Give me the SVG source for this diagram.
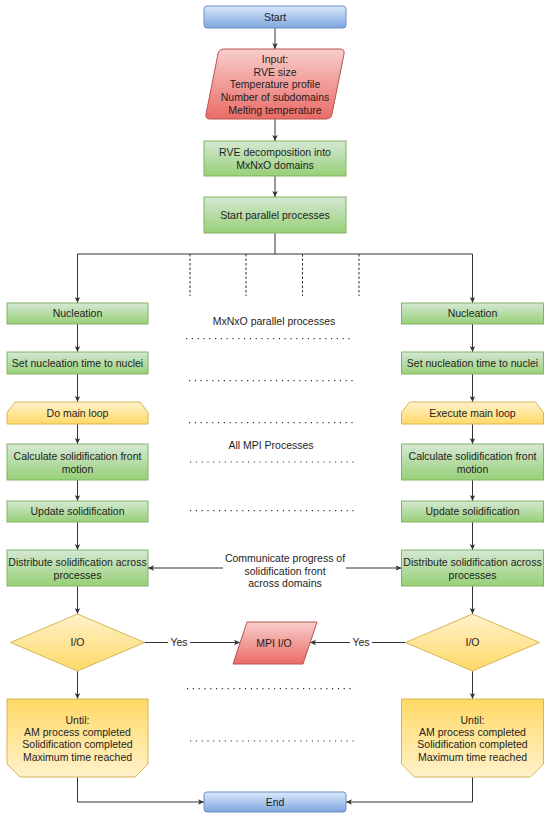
<svg xmlns="http://www.w3.org/2000/svg" width="550" height="821" viewBox="0 0 550 821">
<defs>
<linearGradient id="gBlue" x1="0" y1="0" x2="0" y2="1"><stop offset="0" stop-color="#dae8fc"/><stop offset="1" stop-color="#7ea6e0"/></linearGradient>
<linearGradient id="gRed" x1="0" y1="0" x2="0" y2="1"><stop offset="0" stop-color="#f8cecc"/><stop offset="1" stop-color="#ea6b66"/></linearGradient>
<linearGradient id="gGreen" x1="0" y1="0" x2="0" y2="1"><stop offset="0" stop-color="#d5e8d4"/><stop offset="1" stop-color="#97d077"/></linearGradient>
<linearGradient id="gYellow" x1="0" y1="0" x2="0" y2="1"><stop offset="0" stop-color="#fff2cc"/><stop offset="1" stop-color="#ffd966"/></linearGradient>
<linearGradient id="gYellowUp" x1="0" y1="0" x2="0" y2="1"><stop offset="0" stop-color="#ffd966"/><stop offset="1" stop-color="#fff2cc"/></linearGradient>
<marker id="arr" markerUnits="userSpaceOnUse" markerWidth="7" markerHeight="6" refX="6" refY="2.75" orient="auto" viewBox="0 0 7 6">
<path d="M0,0 L6,2.75 L0,5.5 L1.5,2.75 Z" fill="#333"/>
</marker>
</defs>
<style>
text{font-family:"Liberation Sans",Arial,sans-serif;font-size:10.5px;fill:#1e1e1e;text-anchor:middle}
.blue{fill:url(#gBlue);stroke:#6c8ebf;stroke-width:1}
.red{fill:url(#gRed);stroke:#b85450;stroke-width:1}
.green{fill:url(#gGreen);stroke:#82b366;stroke-width:1}
.yellow{fill:url(#gYellow);stroke:#d6b656;stroke-width:1}
.yellowUp{fill:url(#gYellowUp);stroke:#d6b656;stroke-width:1}
.ln{fill:none;stroke:#333;stroke-width:1}
.ar{fill:none;stroke:#333;stroke-width:1;marker-end:url(#arr)}
.dash{fill:none;stroke:#333;stroke-width:1;stroke-dasharray:2.5 2}
.dot{fill:none;stroke:#333;stroke-width:1.2;stroke-dasharray:1.2 4.6}
</style>

<g id="connectors">
<line class="ar" x1="275" y1="28" x2="275" y2="49"/>
<line class="ar" x1="275" y1="119" x2="275" y2="141"/>
<line class="ar" x1="275" y1="176" x2="275" y2="197"/>
<polyline class="ln" points="275,233 275,254"/>
<polyline class="ln" points="77.5,254 472.5,254"/>
<line class="ar" x1="77.5" y1="254" x2="77.5" y2="303"/>
<line class="ar" x1="472.5" y1="254" x2="472.5" y2="303"/>
<line class="dash" x1="190" y1="254" x2="190" y2="296"/>
<line class="dash" x1="246" y1="254" x2="246" y2="296"/>
<line class="dash" x1="302.5" y1="254" x2="302.5" y2="296"/>
<line class="dash" x1="359" y1="254" x2="359" y2="296"/>

<line class="ar" x1="77.5" y1="324" x2="77.5" y2="352"/>
<line class="ar" x1="77.5" y1="374" x2="77.5" y2="402"/>
<line class="ar" x1="77.5" y1="424" x2="77.5" y2="444"/>
<line class="ar" x1="77.5" y1="480" x2="77.5" y2="501"/>
<line class="ar" x1="77.5" y1="522" x2="77.5" y2="550"/>
<line class="ar" x1="77.5" y1="586" x2="77.5" y2="614"/>
<line class="ar" x1="77.5" y1="671" x2="77.5" y2="699"/>
<polyline class="ar" points="77.5,777 77.5,802 204,802"/>

<line class="ar" x1="472.5" y1="324" x2="472.5" y2="352"/>
<line class="ar" x1="472.5" y1="374" x2="472.5" y2="402"/>
<line class="ar" x1="472.5" y1="424" x2="472.5" y2="444"/>
<line class="ar" x1="472.5" y1="480" x2="472.5" y2="501"/>
<line class="ar" x1="472.5" y1="522" x2="472.5" y2="550"/>
<line class="ar" x1="472.5" y1="586" x2="472.5" y2="614"/>
<line class="ar" x1="472.5" y1="671" x2="472.5" y2="699"/>
<polyline class="ar" points="472.5,777 472.5,802 346,802"/>

<line class="ar" x1="223" y1="568" x2="148" y2="568"/>
<line class="ar" x1="346" y1="568" x2="401.5" y2="568"/>
<line class="ar" x1="144.5" y1="642.5" x2="240" y2="642.5"/>
<line class="ar" x1="405.5" y1="642.5" x2="310" y2="642.5"/>
<rect x="168" y="636" width="22" height="13" fill="#fff"/>
<text x="179" y="646.2">Yes</text>
<rect x="350" y="636" width="22" height="13" fill="#fff"/>
<text x="361" y="646.2">Yes</text>

<line class="dot" x1="186" y1="338.7" x2="352" y2="338.7"/>
<line class="dot" x1="189" y1="380.7" x2="355" y2="380.7"/>
<line class="dot" x1="189" y1="422.7" x2="355" y2="422.7"/>
<line class="dot" x1="190" y1="462" x2="356" y2="462"/>
<line class="dot" x1="190" y1="510.7" x2="357" y2="510.7"/>
<line class="dot" x1="187" y1="688.7" x2="353" y2="688.7"/>
<line class="dot" x1="190" y1="741" x2="357" y2="741"/>
</g>

<g id="labels">
<text x="274" y="325">MxNxO parallel processes</text>
<text x="271" y="448.7">All MPI Processes</text>
<text x="285" y="562">Communicate progress of</text>
<text x="285" y="574.7">solidification front</text>
<text x="285" y="587">across domains</text>
</g>

<g id="start"><rect class="blue" x="204" y="6" width="142" height="22" rx="3"/><text x="275" y="20.7">Start</text></g>
<g id="input">
<path class="red" d="M224,49 L340,49 Q345,49 344,53.9 L332,114.1 Q331,119 326,119 L210,119 Q205,119 206,114.1 L218,53.9 Q219,49 224,49 Z"/>
<text x="275" y="63">Input:</text>
<text x="275" y="75.7">RVE size</text>
<text x="275" y="88.4">Temperature profile</text>
<text x="275" y="101">Number of subdomains</text>
<text x="275" y="113.7">Melting temperature</text>
</g>
<g id="rve"><rect class="green" x="204" y="141" width="142" height="35"/><text x="275" y="156">RVE decomposition into</text><text x="275" y="168.7">MxNxO domains</text></g>
<g id="startParallel"><rect class="green" x="204" y="197" width="142" height="36"/><text x="275" y="218.7">Start parallel processes</text></g>

<g id="nucL"><rect class="green" x="7" y="303" width="141" height="21"/><text x="77.5" y="317.2">Nucleation</text></g>
<g id="setL"><rect class="green" x="7" y="352" width="141" height="22"/><text x="77.5" y="366.7">Set nucleation time to nuclei</text></g>
<g id="loopL"><path class="yellow" d="M15,402 L140,402 L148,412.5 L148,424 L7,424 L7,412.5 Z"/><text x="77.5" y="416.7">Do main loop</text></g>
<g id="calcL"><rect class="green" x="7" y="444" width="141" height="36"/><text x="77.5" y="459.7">Calculate solidification front</text><text x="77.5" y="472.7">motion</text></g>
<g id="updL"><rect class="green" x="7" y="501" width="141" height="21"/><text x="77.5" y="515.2">Update solidification</text></g>
<g id="distL"><rect class="green" x="7" y="550" width="141" height="36"/><text x="77.5" y="566.4">Distribute solidification across</text><text x="77.5" y="578.7">processes</text></g>
<g id="ioL"><path class="yellow" d="M77.5,614 L144.5,642.5 L77.5,671 L10.5,642.5 Z"/><text x="77.5" y="646.2">I/O</text></g>
<g id="untilL"><path class="yellowUp" d="M7,699 L148,699 L148,764 L135,777 L20,777 L7,764 Z"/>
<text x="77.5" y="723.7">Until:</text><text x="77.5" y="736">AM process completed</text><text x="77.5" y="748.4">Solidification completed</text><text x="77.5" y="761.4">Maximum time reached</text></g>

<g id="nucR"><rect class="green" x="401.5" y="303" width="142" height="21"/><text x="472.5" y="317.2">Nucleation</text></g>
<g id="setR"><rect class="green" x="401.5" y="352" width="142" height="22"/><text x="472.5" y="366.7">Set nucleation time to nuclei</text></g>
<g id="loopR"><path class="yellow" d="M409.5,402 L535.5,402 L543.5,412.5 L543.5,424 L401.5,424 L401.5,412.5 Z"/><text x="472.5" y="416.7">Execute main loop</text></g>
<g id="calcR"><rect class="green" x="401.5" y="444" width="142" height="36"/><text x="472.5" y="459.7">Calculate solidification front</text><text x="472.5" y="472.7">motion</text></g>
<g id="updR"><rect class="green" x="401.5" y="501" width="142" height="21"/><text x="472.5" y="515.2">Update solidification</text></g>
<g id="distR"><rect class="green" x="401.5" y="550" width="142" height="36"/><text x="472.5" y="566.4">Distribute solidification across</text><text x="472.5" y="578.7">processes</text></g>
<g id="ioR"><path class="yellow" d="M472.5,614 L539.5,642.5 L472.5,671 L405.5,642.5 Z"/><text x="472.5" y="646.2">I/O</text></g>
<g id="untilR"><path class="yellowUp" d="M401.5,699 L543.5,699 L543.5,764 L530.5,777 L414.5,777 L401.5,764 Z"/>
<text x="472.5" y="723.7">Until:</text><text x="472.5" y="736">AM process completed</text><text x="472.5" y="748.4">Solidification completed</text><text x="472.5" y="761.4">Maximum time reached</text></g>

<g id="mpiio"><path class="red" d="M247,622 L317,622 L303,664 L233,664 Z"/><text x="274" y="646.5">MPI I/O</text></g>
<g id="end"><rect class="blue" x="204" y="792" width="142" height="20" rx="3"/><text x="275" y="805.7">End</text></g>
</svg>
